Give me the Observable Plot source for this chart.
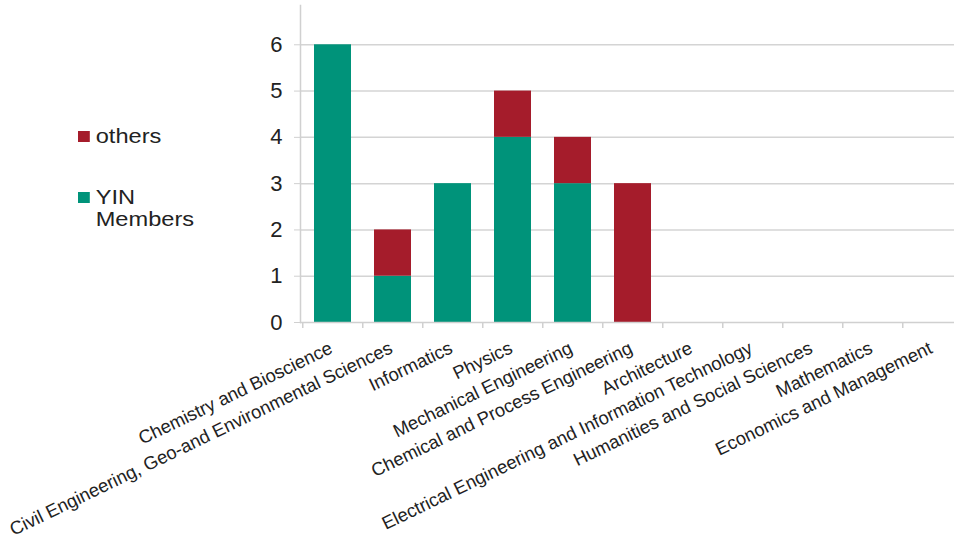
<!DOCTYPE html>
<html>
<head>
<meta charset="utf-8">
<script src="https://cdn.jsdelivr.net/npm/d3@7"></script>
<script src="https://cdn.jsdelivr.net/npm/@observablehq/plot@0.6"></script>
<style>
  html, body { margin: 0; padding: 0; background: #fff; }
  #wrap { position: relative; width: 954px; height: 545px; font-family: "Liberation Sans", Arial, sans-serif; }
  #legend { position: absolute; left: 78px; top: 125px; font-size: 20px; color: #222; line-height: 22px; transform-origin: 0 0; transform: scaleX(1.18); }
  .item { position: relative; padding-left: 15px; margin-bottom: 39px; }
  .sw { position: absolute; left: 0; top: 6px; width: 9.5px; height: 11px; }
</style>
</head>
<body>
<div id="wrap"></div>
<script>
const categories = [
  "Chemistry and Bioscience",
  "Civil Engineering, Geo-and Environmental Sciences",
  "Informatics",
  "Physics",
  "Mechanical Engineering",
  "Chemical and Process Engineering",
  "Architecture",
  "Electrical Engineering and Information Technology",
  "Humanities and Social Sciences",
  "Mathematics",
  "Economics and Management"
];
const yinMembers = [6, 1, 3, 4, 3, 0, 0, 0, 0, 0, 0];
const others     = [0, 1, 0, 1, 1, 3, 0, 0, 0, 0, 0];
const seriesNames = ["YIN Members", "others"];
const seriesColors = ["#00937a", "#a51c2b"];
const yTicks = [0, 1, 2, 3, 4, 5, 6];

const rows = [];
categories.forEach((c, i) => {
  rows.push({category: c, series: "YIN Members", value: yinMembers[i]});
  rows.push({category: c, series: "others", value: others[i]});
});

const chart = Plot.plot({
  width: 954,
  height: 545,
  marginLeft: 300,
  marginRight: 0,
  marginTop: 5,
  marginBottom: 223,
  style: {fontFamily: "'Liberation Sans', Arial, sans-serif", color: "#222"},
  x: {type: "band", domain: categories, range: [300, 965.5], paddingInner: 0.38, paddingOuter: 0.19, axis: null},
  y: {domain: [0, 7], range: [322, -2], axis: null},
  color: {domain: seriesNames, range: seriesColors},
  marks: [
    Plot.gridY(yTicks.slice(1), {stroke: "#d4d4d4", strokeOpacity: 1, strokeWidth: 1.5}),
    Plot.barY(rows, {x: "category", y: "value", fill: "series", order: seriesNames}),
    Plot.frame({anchor: "left", stroke: "#d0d0d0", strokeWidth: 1.5}),
    Plot.ruleY([0], {stroke: "#d0d0d0", strokeWidth: 1.5}),
    Plot.axisY(yTicks, {label: null, tickSize: 6, tickPadding: 12, fontSize: 22, stroke: "#d0d0d0", fill: "#222"}),
    Plot.ruleX(categories, {x: d => d, y1: 0, y2: 0, insetBottom: -6, dx: -30.25, stroke: "#d0d0d0", strokeWidth: 1.5}),
    Plot.text(categories, {x: d => d, y: 0, text: d => d, rotate: -25.8, textAnchor: "end", lineAnchor: "top", dx: -5, dy: 18, fontSize: 18.4, fill: "#222"})
  ]
});

const wrap = document.getElementById("wrap");
wrap.appendChild(chart);

const legend = document.createElement("div");
legend.id = "legend";
const legendItems = [{name: "others", color: seriesColors[1]}, {name: "YIN<br>Members", color: seriesColors[0]}];
legendItems.forEach(it => {
  const d = document.createElement("div");
  d.className = "item";
  d.innerHTML = `<span class="sw" style="background:${it.color}"></span>${it.name}`;
  legend.appendChild(d);
});
wrap.appendChild(legend);
</script>
</body>
</html>
